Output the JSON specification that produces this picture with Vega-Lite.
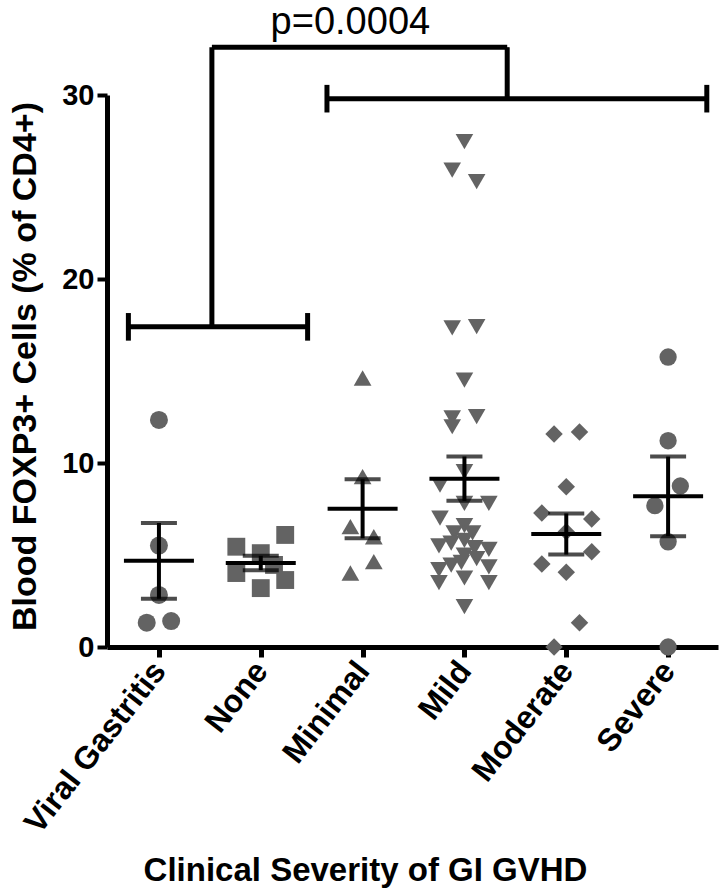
{
  "$schema": "https://vega.github.io/schema/vega-lite/v6.json",
  "width": 611,
  "height": 552,
  "autosize": {"type": "none"},
  "padding": {"left": 107, "top": 95, "right": 8, "bottom": 249},
  "background": "white",
  "config": {"view": {"stroke": null}, "font": "Liberation Sans"},
  "datasets": {
    "pts": [
      {"group": "Viral Gastritis", "g": 0, "xj": 0, "v": 12.34},
      {"group": "Viral Gastritis", "g": 0, "xj": 0, "v": 5.51},
      {"group": "Viral Gastritis", "g": 0, "xj": 0, "v": 2.83},
      {"group": "Viral Gastritis", "g": 0, "xj": -0.12, "v": 1.32},
      {"group": "Viral Gastritis", "g": 0, "xj": 0.12, "v": 1.41},
      {"group": "None", "g": 1, "xj": 0.76, "v": 5.45},
      {"group": "None", "g": 1, "xj": 1.24, "v": 6.09},
      {"group": "None", "g": 1, "xj": 1.0, "v": 5.1},
      {"group": "None", "g": 1, "xj": 1.13, "v": 4.46},
      {"group": "None", "g": 1, "xj": 0.76, "v": 4.02},
      {"group": "None", "g": 1, "xj": 1.0, "v": 3.2},
      {"group": "None", "g": 1, "xj": 1.24, "v": 3.64},
      {"group": "Minimal", "g": 2, "xj": 2.0, "v": 14.62},
      {"group": "Minimal", "g": 2, "xj": 2.0, "v": 9.26},
      {"group": "Minimal", "g": 2, "xj": 1.88, "v": 6.54},
      {"group": "Minimal", "g": 2, "xj": 2.11, "v": 5.99},
      {"group": "Minimal", "g": 2, "xj": 2.11, "v": 4.64},
      {"group": "Minimal", "g": 2, "xj": 1.88, "v": 4.02},
      {"group": "Mild", "g": 3, "xj": 3.0, "v": 27.46},
      {"group": "Mild", "g": 3, "xj": 2.88, "v": 25.92},
      {"group": "Mild", "g": 3, "xj": 3.12, "v": 25.29},
      {"group": "Mild", "g": 3, "xj": 2.88, "v": 17.34},
      {"group": "Mild", "g": 3, "xj": 3.12, "v": 17.41},
      {"group": "Mild", "g": 3, "xj": 3.0, "v": 14.51},
      {"group": "Mild", "g": 3, "xj": 2.88, "v": 12.45},
      {"group": "Mild", "g": 3, "xj": 2.88, "v": 11.97},
      {"group": "Mild", "g": 3, "xj": 3.12, "v": 12.52},
      {"group": "Mild", "g": 3, "xj": 3.0, "v": 9.53},
      {"group": "Mild", "g": 3, "xj": 2.76, "v": 8.8},
      {"group": "Mild", "g": 3, "xj": 3.0, "v": 7.8},
      {"group": "Mild", "g": 3, "xj": 3.24, "v": 7.8},
      {"group": "Mild", "g": 3, "xj": 2.76, "v": 7.0},
      {"group": "Mild", "g": 3, "xj": 3.0, "v": 6.6},
      {"group": "Mild", "g": 3, "xj": 2.9, "v": 6.2},
      {"group": "Mild", "g": 3, "xj": 3.08, "v": 6.2},
      {"group": "Mild", "g": 3, "xj": 2.75, "v": 5.5},
      {"group": "Mild", "g": 3, "xj": 2.87, "v": 5.65},
      {"group": "Mild", "g": 3, "xj": 3.1, "v": 5.4},
      {"group": "Mild", "g": 3, "xj": 3.24, "v": 5.3},
      {"group": "Mild", "g": 3, "xj": 3.0, "v": 5.0},
      {"group": "Mild", "g": 3, "xj": 3.12, "v": 4.8},
      {"group": "Mild", "g": 3, "xj": 2.87, "v": 4.45},
      {"group": "Mild", "g": 3, "xj": 3.24, "v": 4.35},
      {"group": "Mild", "g": 3, "xj": 2.75, "v": 4.2},
      {"group": "Mild", "g": 3, "xj": 3.0, "v": 3.75},
      {"group": "Mild", "g": 3, "xj": 3.24, "v": 3.5},
      {"group": "Mild", "g": 3, "xj": 2.75, "v": 3.5},
      {"group": "Mild", "g": 3, "xj": 3.0, "v": 2.2},
      {"group": "Mild", "g": 3, "xj": 3.0, "v": 5.8},
      {"group": "Mild", "g": 3, "xj": 2.97, "v": 4.6},
      {"group": "Moderate", "g": 4, "xj": 3.88, "v": 11.58},
      {"group": "Moderate", "g": 4, "xj": 4.13, "v": 11.68},
      {"group": "Moderate", "g": 4, "xj": 4.0, "v": 8.71},
      {"group": "Moderate", "g": 4, "xj": 3.76, "v": 7.28},
      {"group": "Moderate", "g": 4, "xj": 4.25, "v": 6.96},
      {"group": "Moderate", "g": 4, "xj": 4.0, "v": 6.27},
      {"group": "Moderate", "g": 4, "xj": 4.25, "v": 5.18},
      {"group": "Moderate", "g": 4, "xj": 3.76, "v": 4.51},
      {"group": "Moderate", "g": 4, "xj": 4.0, "v": 4.06},
      {"group": "Moderate", "g": 4, "xj": 4.13, "v": 1.32},
      {"group": "Moderate", "g": 4, "xj": 3.88, "v": 0},
      {"group": "Severe", "g": 5, "xj": 5.0, "v": 15.76},
      {"group": "Severe", "g": 5, "xj": 5.0, "v": 11.21},
      {"group": "Severe", "g": 5, "xj": 5.12, "v": 8.75},
      {"group": "Severe", "g": 5, "xj": 4.87, "v": 7.68},
      {"group": "Severe", "g": 5, "xj": 5.0, "v": 5.72},
      {"group": "Severe", "g": 5, "xj": 5.0, "v": 0}
    ],
    "brackets": [
      {"x": -0.3, "x2": 1.46, "y": 17.4, "y2": 17.4},
      {"x": -0.3, "x2": -0.3, "y": 16.65, "y2": 18.15},
      {"x": 1.46, "x2": 1.46, "y": 16.65, "y2": 18.15},
      {"x": 0.52, "x2": 0.52, "y": 17.4, "y2": 32.6},
      {"x": 0.52, "x2": 3.42, "y": 32.6, "y2": 32.6},
      {"x": 3.42, "x2": 3.42, "y": 32.6, "y2": 29.8},
      {"x": 1.65, "x2": 5.38, "y": 29.8, "y2": 29.8},
      {"x": 1.65, "x2": 1.65, "y": 29.05, "y2": 30.55},
      {"x": 5.38, "x2": 5.38, "y": 29.05, "y2": 30.55}
    ],
    "label": [{"x": 1.88, "y": 33.9, "text": "p=0.0004"}]
  },
  "layer": [
    {
      "data": {"name": "pts"},
      "mark": {"type": "point", "filled": true, "opacity": 1, "color": "#636363", "strokeWidth": 0},
      "encoding": {
        "x": {
          "field": "xj", "type": "quantitative",
          "title": "Clinical Severity of GI GVHD",
          "scale": {"domain": [-0.51, 5.49], "nice": false, "zero": false},
          "axis": {
            "values": [0, 1, 2, 3, 4, 5],
            "labelExpr": "['Viral Gastritis','None','Minimal','Mild','Moderate','Severe'][datum.value]",
            "labelAngle": -52,
            "labelAlign": "right",
            "labelBaseline": "middle",
            "labelFont": "Liberation Sans",
            "labelFontWeight": "bold",
            "labelFontSize": 32,
            "labelColor": "black",
            "labelPadding": 8,
            "labelLimit": 0,
            "labelOverlap": false,
            "labelFlush": false,
            "grid": false,
            "domainColor": "black",
            "domainWidth": 5,
            "tickColor": "black",
            "tickWidth": 5,
            "tickSize": 10,
            "titleFont": "Liberation Sans",
            "titleFontWeight": "bold",
            "titleFontSize": 33,
            "titleColor": "black",
            "titleX": 258,
            "titleY": 223,
            "titleBaseline": "middle",
            "titleAlign": "center"
          }
        },
        "y": {
          "field": "v", "type": "quantitative",
          "title": "Blood FOXP3+ Cells (% of CD4+)",
          "scale": {"domain": [0, 30], "nice": false},
          "axis": {
            "values": [0, 10, 20, 30],
            "grid": false,
            "labelFont": "Liberation Sans",
            "labelFontWeight": "bold",
            "labelFontSize": 29,
            "labelColor": "black",
            "labelPadding": 3,
            "domainColor": "black",
            "domainWidth": 5,
            "tickColor": "black",
            "tickWidth": 4,
            "tickSize": 10,
            "titleFont": "Liberation Sans",
            "titleFontWeight": "bold",
            "titleFontSize": 34,
            "titleColor": "black",
            "titleAngle": -90,
            "titleX": -82,
            "titleY": 271,
            "titleBaseline": "middle",
            "titleAlign": "center"
          }
        },
        "shape": {
          "field": "group", "type": "nominal", "legend": null,
          "scale": {
            "domain": ["Viral Gastritis", "None", "Minimal", "Mild", "Moderate", "Severe"],
            "range": ["circle", "square", "triangle-up", "triangle-down", "diamond", "circle"]
          }
        },
        "size": {
          "field": "group", "type": "nominal", "legend": null,
          "scale": {
            "domain": ["Viral Gastritis", "None", "Minimal", "Mild", "Moderate", "Severe"],
            "range": [324, 300, 320, 320, 460, 324]
          }
        }
      }
    },
    {
      "data": {"name": "pts"},
      "mark": {"type": "errorbar", "extent": "stderr", "orient": "vertical", "color": "black",
               "ticks": {"size": 36, "thickness": 4, "color": "black"},
               "rule": {"strokeWidth": 4, "color": "black"}},
      "encoding": {
        "x": {"field": "g", "type": "quantitative", "title": "Clinical Severity of GI GVHD"},
        "y": {"field": "v", "type": "quantitative", "title": "Blood FOXP3+ Cells (% of CD4+)"}
      }
    },
    {
      "data": {"name": "pts"},
      "mark": {"type": "tick", "orient": "horizontal", "size": 70, "thickness": 4, "color": "black", "opacity": 1},
      "encoding": {
        "x": {"field": "g", "type": "quantitative", "title": "Clinical Severity of GI GVHD"},
        "y": {"aggregate": "mean", "field": "v", "type": "quantitative", "title": "Blood FOXP3+ Cells (% of CD4+)"}
      }
    },
    {
      "data": {"name": "brackets"},
      "mark": {"type": "rule", "color": "black", "strokeWidth": 5},
      "encoding": {
        "x": {"field": "x", "type": "quantitative", "title": "Clinical Severity of GI GVHD"},
        "x2": {"field": "x2"},
        "y": {"field": "y", "type": "quantitative", "title": "Blood FOXP3+ Cells (% of CD4+)"},
        "y2": {"field": "y2"}
      }
    },
    {
      "data": {"name": "label"},
      "mark": {"type": "text", "font": "Liberation Sans", "fontSize": 38, "color": "black", "baseline": "middle", "align": "center"},
      "encoding": {
        "x": {"field": "x", "type": "quantitative", "title": "Clinical Severity of GI GVHD"},
        "y": {"field": "y", "type": "quantitative", "title": "Blood FOXP3+ Cells (% of CD4+)"},
        "text": {"field": "text"}
      }
    }
  ]
}
